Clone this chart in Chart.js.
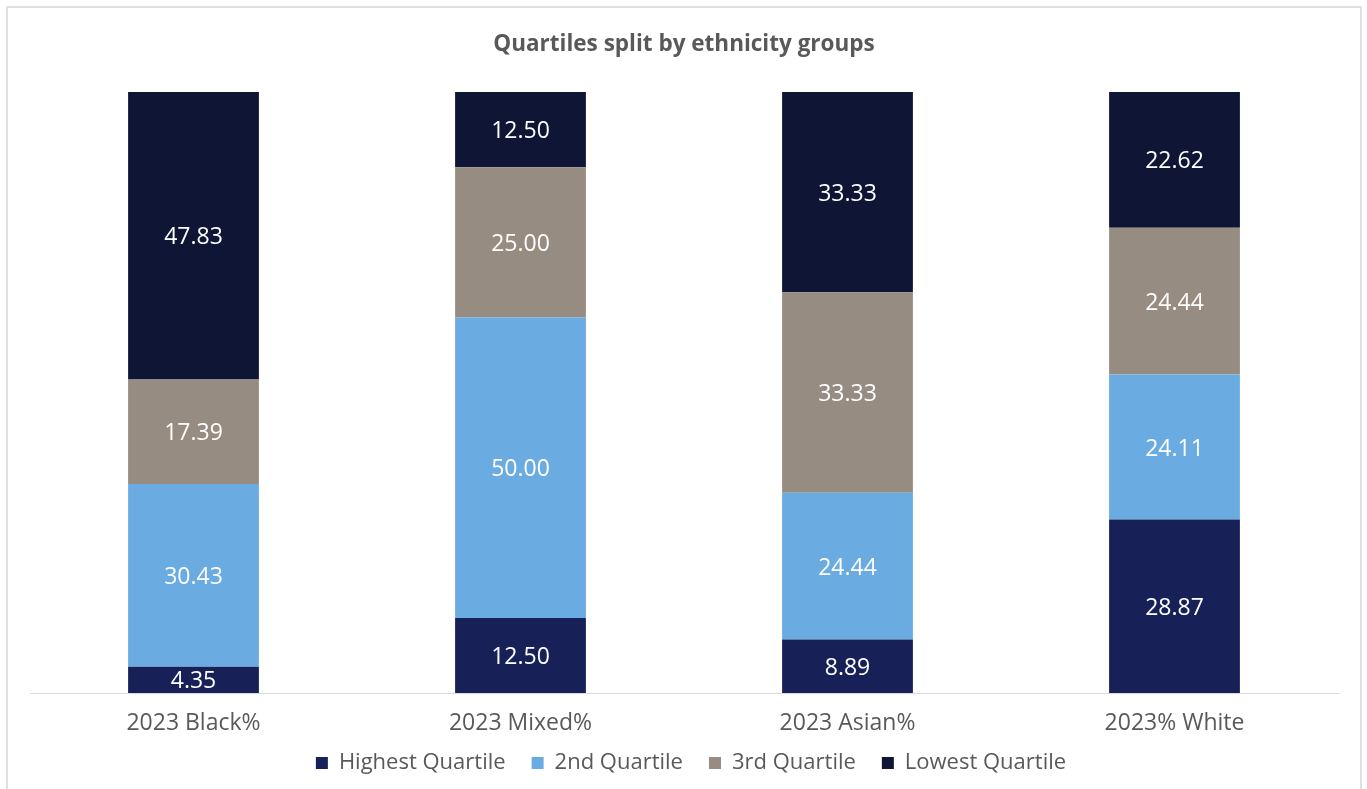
<!DOCTYPE html>
<html>
<head>
<meta charset="utf-8">
<script src="https://cdn.jsdelivr.net/npm/chart.js@4"></script>
<style>
  body { margin: 0; background: #fff; }
  #frame { position: absolute; left: 6px; top: 6px; width: 1356px; height: 800px; border: 2px solid #e0e0e0; box-sizing: border-box; }
  #wrap { position: absolute; left: 0; top: 0; width: 1367px; height: 789px; }
</style>
</head>
<body>
<div id="frame"></div>
<div id="wrap"><canvas id="chart"></canvas></div>
<script>
// --- Data ---
const categories = ['2023 Black%', '2023 Mixed%', '2023 Asian%', '2023% White'];
const highestQuartile = [4.35, 12.50, 8.89, 28.87];
const secondQuartile = [30.43, 50.00, 24.44, 24.11];
const thirdQuartile = [17.39, 25.00, 33.33, 24.44];
const lowestQuartile = [47.83, 12.50, 33.33, 22.62];

const textGrey = '#595959';
const font = "'Open Sans', 'Noto Sans', sans-serif";

// white value labels centred in each segment
const segmentLabels = {
  id: 'segmentLabels',
  afterDatasetsDraw(chart) {
    const ctx = chart.ctx;
    ctx.save();
    ctx.fillStyle = '#ffffff';
    ctx.font = '23px ' + font;
    ctx.textAlign = 'center';
    ctx.textBaseline = 'middle';
    chart.data.datasets.forEach((ds, i) => {
      chart.getDatasetMeta(i).data.forEach((bar, j) => {
        const p = bar.getProps(['x', 'y', 'base'], true);
        ctx.fillText(ds.data[j].toFixed(2), p.x, (p.y + p.base) / 2 + 2);
      });
    });
    ctx.restore();
  }
};

// pull the legend up closer to the axis labels (its padding is also the item gap)
const legendNudge = {
  id: 'legendNudge',
  afterLayout(chart) {
    const lg = chart.legend;
    const h = lg.bottom - lg.top;
    lg.top = 726;
    lg.bottom = lg.top + h;
    lg.left += 7;
    lg.right += 7;
  }
};

new Chart(document.getElementById('chart'), {
  type: 'bar',
  data: {
    labels: categories,
    datasets: [
      { label: 'Highest Quartile', data: highestQuartile, backgroundColor: '#182157' },
      { label: '2nd Quartile', data: secondQuartile, backgroundColor: '#6aabe2' },
      { label: '3rd Quartile', data: thirdQuartile, backgroundColor: '#978c82' },
      { label: 'Lowest Quartile', data: lowestQuartile, backgroundColor: '#0e1535' },
    ]
  },
  options: {
    responsive: true,
    maintainAspectRatio: false,
    animation: false,
    layout: { padding: { left: 30, right: 29, top: 0, bottom: -9 } },
    datasets: { bar: { categoryPercentage: 0.8, barPercentage: 0.5 } },
    scales: {
      x: {
        stacked: true,
        grid: { display: false, drawTicks: false },
        border: { color: '#d9d9d9', width: 1 },
        ticks: { color: textGrey, font: { family: font, size: 23 }, padding: 17 },
        afterFit(scale) { scale.height = 47; }
      },
      y: { stacked: true, display: false, min: 0, max: 100 }
    },
    plugins: {
      title: {
        display: true,
        text: 'Quartiles split by ethnicity groups',
        color: textGrey,
        font: { family: font, size: 22.5, weight: 'bold' },
        padding: { top: 31, bottom: 34 }
      },
      legend: {
        position: 'bottom',
        labels: { color: textGrey, font: { family: font, size: 22 }, boxWidth: 12, boxHeight: 12, padding: 26 }
      },
      tooltip: { enabled: false }
    }
  },
  plugins: [segmentLabels, legendNudge]
});
</script>
</body>
</html>
